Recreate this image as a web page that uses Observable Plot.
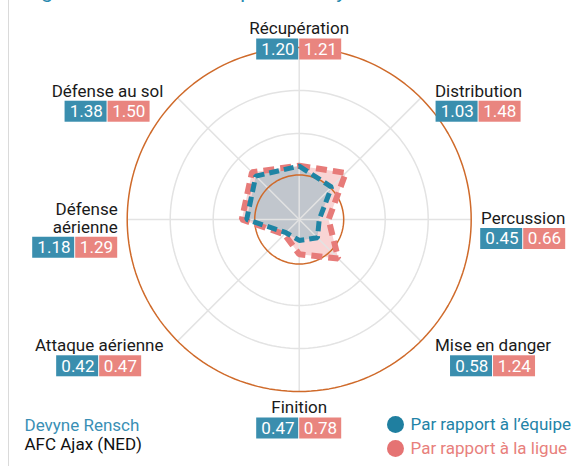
<!DOCTYPE html>
<html><head><meta charset="utf-8">
<script src="https://cdn.jsdelivr.net/npm/d3@7"></script>
<script src="https://cdn.jsdelivr.net/npm/@observablehq/plot@0.6"></script>
<style>
html,body{margin:0;padding:0;background:#fff;overflow:hidden}
#wrap{position:relative;width:577px;height:466px}
#rule{position:absolute;left:7.5px;top:0;width:0;height:466px;border-left:1.5px solid #dadada}
#wrap svg{position:absolute;left:0;top:0}
</style></head><body><div id="wrap"><div id="rule"></div></div>
<script>
// ---- data ----
const categories = ["Récupération","Distribution","Percussion","Mise en danger","Finition","Attaque aérienne","Défense aérienne","Défense au sol"];
const teamValues = [1.20,1.03,0.45,0.58,0.47,0.42,1.18,1.38];
const leagueValues = [1.21,1.48,0.66,1.24,0.78,0.47,1.29,1.50];
const seriesLabels = ["Par rapport à l’équipe","Par rapport à la ligue"];
const playerName = "Devyne Rensch";
const playerClub = "AFC Ajax (NED)";
const titleText = "Figure 3 : Profil statistique de Devyne Rensch";
const referenceValue = 1;

// ---- layout ----
const W=577,H=466,CX=298.7,CY=219,K=44.5;
const RMAX=172/K;
const FONT="Roboto, 'Noto Sans', sans-serif";
const TEAM_BOX="#3a8eae", LEAGUE_BOX="#e9857f";
const TEAM_LINE="#1f84a4", LEAGUE_LINE="#e77b79";
const ORANGE="#cf6a2a", GRID="#e3e3e3";
const ctx=document.createElement("canvas").getContext("2d");
ctx.font="17px Roboto";
const mw=s=>ctx.measureText(s).width;
const fmt=d3.format(".2f");

const N=categories.length;
const rows=categories.map((c,i)=>{const a=i*2*Math.PI/N;return {cat:c,s:Math.sin(a),c:Math.cos(a),team:teamValues[i],league:leagueValues[i]};});
const ring=r=>d3.range(0,361,2).map(t=>({x:r*Math.sin(t*Math.PI/180),y:r*Math.cos(t*Math.PI/180)}));
const ux=p=>p/K, uy=p=>-p/K;

const BOXW=42.5,BOXH=21,LH=17.5;
const lineRows=[],boxRows=[];
rows.forEach(d=>{
  const side=d.s>0.3?1:d.s<-0.3?-1:0;
  const cardinal=Math.abs(d.s)>0.9||Math.abs(d.c)>0.9;
  const Rx=cardinal?181.5:192, Ry=cardinal?189.5:180;
  const Px=Rx*d.s, Py=-Ry*d.c;
  const place=lines=>{
    const tw=Math.max(...lines.map(mw));
    const bW=Math.max(tw,2*BOXW);
    const left=side===1?Px:side===-1?Px-bW:Px-bW/2;
    return {lines,bW,left};
  };
  let L=place([d.cat]);
  if (CX+L.left<10 || CX+L.left+L.bW>W-4) {
    const i=d.cat.indexOf(" ");
    L=place([d.cat.slice(0,i),d.cat.slice(i+1)]);
  }
  const n=L.lines.length;
  const blockH=37+(n-1)*LH;
  const top=Py+11.5-blockH/2;
  const bc=L.left+L.bW/2;
  L.lines.forEach((t,i)=>lineRows.push({t,x:ux(side===-1?L.left+L.bW:bc),y:uy(top+6+i*LH),anchor:side===-1?"end":"middle"}));
  const by=top+16+(n-1)*LH;
  boxRows.push({x1:ux(bc-BOXW),x2:ux(bc-0.5),y1:uy(by),y2:uy(by+BOXH),fill:TEAM_BOX,t:fmt(d.team),tx:ux(bc-BOXW/2),ty:uy(by+BOXH/2)});
  boxRows.push({x1:ux(bc+0.5),x2:ux(bc+BOXW),y1:uy(by),y2:uy(by+BOXH),fill:LEAGUE_BOX,t:fmt(d.league),tx:ux(bc+BOXW/2),ty:uy(by+BOXH/2)});
});

const legendRows=seriesLabels.map((s,i)=>({s,x:ux(395-CX),y:uy(424+i*24-CY),tx:ux(410-CX),dot:i?"#e57373":"#1f7fa0",col:i?"#e8807c":"#2383a7"}));
const nameRows=[{t:playerName,col:"#3a8fb5",y:uy(425-CY)},{t:playerClub,col:"#111",y:uy(444-CY)}];

const pt=key=>({x:d=>d[key]*d.s,y:d=>d[key]*d.c});
const labelMark=anchor=>Plot.text(lineRows.filter(d=>d.anchor===anchor),{x:"x",y:"y",text:"t",textAnchor:anchor,fontSize:17,fill:"#1a1a1a"});

const chart=Plot.plot({
  width:W,height:H,margin:0,
  x:{domain:[-CX/K,(W-CX)/K],axis:null},
  y:{domain:[-(H-CY)/K,CY/K],axis:null},
  style:{fontFamily:FONT,background:"transparent",overflow:"visible"},
  marks:[
    Plot.line(rows,{...pt("league"),curve:"linear-closed",fill:"#f9d4d4",stroke:"none"}),
    Plot.line(rows,{...pt("team"),curve:"linear-closed",fill:"#c1c6cd",stroke:"none"}),
    Plot.line(ring(RMAX*0.5),{x:"x",y:"y",stroke:GRID,strokeWidth:1.5}),
    Plot.line(ring(RMAX*0.75),{x:"x",y:"y",stroke:GRID,strokeWidth:1.5}),
    Plot.link(rows,{x1:0,y1:0,x2:d=>RMAX*d.s,y2:d=>RMAX*d.c,stroke:GRID,strokeWidth:1.5}),
    Plot.line(ring(referenceValue),{x:"x",y:"y",stroke:ORANGE,strokeWidth:1.5}),
    Plot.line(ring(RMAX),{x:"x",y:"y",stroke:ORANGE,strokeWidth:1.5}),
    Plot.line(rows,{...pt("league"),curve:"linear-closed",stroke:LEAGUE_LINE,strokeWidth:6,strokeDasharray:"11 6",strokeLinecap:"butt",strokeLinejoin:"miter"}),
    Plot.line(rows,{...pt("team"),curve:"linear-closed",stroke:TEAM_LINE,strokeWidth:5,strokeDasharray:"10 5",strokeLinecap:"butt",strokeLinejoin:"miter"}),
    labelMark("middle"),
    labelMark("end"),
    Plot.rect(boxRows,{x1:"x1",x2:"x2",y1:"y1",y2:"y2",fill:d=>d.fill}),
    Plot.text(boxRows,{x:"tx",y:"ty",text:"t",fontSize:17,fill:"white"}),
    Plot.dot(legendRows,{x:"x",y:"y",r:8.5,fill:d=>d.dot}),
    Plot.text(legendRows,{x:"tx",y:"y",text:"s",textAnchor:"start",fontSize:17,fill:d=>d.col}),
    Plot.text(nameRows,{x:ux(24-CX),y:"y",text:"t",textAnchor:"start",fontSize:17,fill:d=>d.col}),
    Plot.text([titleText],{x:ux(24-CX),y:uy(-9.5-CY),text:d=>d,textAnchor:"start",fontSize:21,fill:"#2a8ab0"})
  ]
});
document.getElementById("wrap").appendChild(chart);
</script></body></html>
